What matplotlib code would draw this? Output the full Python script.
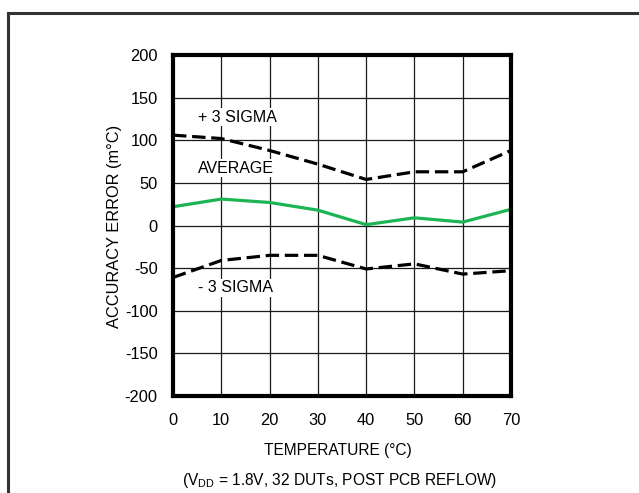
import matplotlib
matplotlib.use("Agg")
import matplotlib.pyplot as plt
from matplotlib.lines import Line2D

plt.rcParams['font.family'] = ['Liberation Sans', 'DejaVu Sans']

temperature = [0, 10, 20, 30, 40, 50, 60, 70]
plus_3_sigma = [106, 102, 88, 72, 54, 63, 63, 88]
average = [22, 31, 27, 18, 1, 9, 4, 19]
minus_3_sigma = [-61, -41, -35, -35, -51, -45, -57, -53]
x_ticks = [0, 10, 20, 30, 40, 50, 60, 70]
y_ticks = [-200, -150, -100, -50, 0, 50, 100, 150, 200]

W, H = 639, 493
fig = plt.figure(figsize=(W / 100, H / 100), dpi=100)

# outer frame (extends beyond right/bottom edges)
fig.add_artist(Line2D([8 / W, 8 / W], [0, 1 - 13 / H], color='#333333', lw=2.2, transform=fig.transFigure))
fig.add_artist(Line2D([8 / W, 1], [1 - 13 / H, 1 - 13 / H], color='#333333', lw=2.2, transform=fig.transFigure))

left, right, top, bottom = 173, 511, 55, 396
ax = fig.add_axes([left / W, 1 - bottom / H, (right - left) / W, (bottom - top) / H])

ax.plot(temperature, plus_3_sigma, color='black', lw=2.3, ls=(0, (4.2, 1.8)))
ax.plot(temperature, average, color='#1db554', lw=2.3)
ax.plot(temperature, minus_3_sigma, color='black', lw=2.3, ls=(0, (4.2, 1.8)))

ax.set_xlim(0, 70)
ax.set_ylim(-200, 200)
ax.set_xticks(x_ticks)
ax.set_yticks(y_ticks)
ax.set_xticklabels([str(v) for v in x_ticks], fontsize=11.8)
ax.set_yticklabels([str(v) for v in y_ticks], fontsize=11.8)
ax.tick_params(axis='x', length=0, pad=12)
ax.tick_params(axis='y', length=0, pad=11)
ax.grid(True, color='#1a1a1a', lw=0.9)
for s in ax.spines.values():
    s.set_linewidth(3)

ax.text(5.2, 127, '+ 3 SIGMA', fontsize=11.5, va='center', ha='left',
        bbox=dict(facecolor='white', edgecolor='none', pad=1))
ax.text(5.2, 67, 'AVERAGE', fontsize=11.5, va='center', ha='left',
        bbox=dict(facecolor='white', edgecolor='none', pad=1))
ax.text(5.2, -73, '- 3 SIGMA', fontsize=11.5, va='center', ha='left',
        bbox=dict(facecolor='white', edgecolor='none', pad=1))

fig.text(115 / W, 1 - 226 / H, 'ACCURACY ERROR (m°C)', rotation=90, fontsize=11.8,
         ha='center', va='center')
fig.text(338 / W, 1 - 450 / H, 'TEMPERATURE (°C)', fontsize=11.2, ha='center', va='center')
fig.text(340 / W, 1 - 480 / H, r'(V$_{\mathregular{DD}}$ = 1.8V, 32 DUTs, POST PCB REFLOW)', fontsize=11.2,
         ha='center', va='center')

fig.savefig('out.png', dpi=100)
